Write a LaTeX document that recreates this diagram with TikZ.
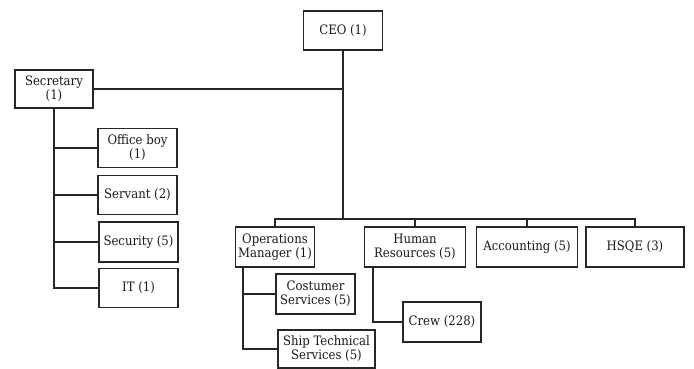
\documentclass[tikz,border=0pt]{standalone}
\usepackage{fontspec}
\setmainfont{DejaVu Serif Condensed}
\begin{document}
\begin{tikzpicture}[x=1pt,y=-1pt,
  box/.style={draw=black!85, line width=1.9pt, align=center, inner sep=0pt,
    text=black!90, font=\fontsize{13}{14}\selectfont},
  link/.style={draw=black!85, line width=1.9pt}]
\useasboundingbox (0,0) rectangle (694,369);
\node[box, minimum width=79pt, minimum height=39pt] (ceo) at (343,30.5) {CEO (1)};
\node[box, minimum width=78pt, minimum height=38pt] (sec) at (54,89) {Secretary\\(1)};
\node[box, minimum width=79pt, minimum height=39pt] (ob) at (137.5,148) {Office boy\\(1)};
\node[box, minimum width=79pt, minimum height=39pt] (sv) at (137.5,195) {Servant (2)};
\node[box, minimum width=79pt, minimum height=40pt] (secu) at (138.5,242) {Security (5)};
\node[box, minimum width=79pt, minimum height=39pt] (it) at (138.5,288) {IT (1)};
\node[box, minimum width=79pt, minimum height=40pt] (om) at (275,247) {Operations\\Manager (1)};
\node[box, minimum width=101pt, minimum height=40pt] (hr) at (415,247) {Human\\Resources (5)};
\node[box, minimum width=101pt, minimum height=40pt] (acc) at (527,247) {Accounting (5)};
\node[box, minimum width=98pt, minimum height=40pt] (hsqe) at (635,247) {HSQE (3)};
\node[box, minimum width=79pt, minimum height=40pt] (cs) at (315.5,294) {Costumer\\Services (5)};
\node[box, minimum width=97pt, minimum height=38pt] (sts) at (326.5,349) {Ship Technical\\Services (5)};
\node[box, minimum width=78pt, minimum height=40pt] (crew) at (442,322) {Crew (228)};
\coordinate (bus) at (343,219);
\coordinate (omd) at ([xshift=8.5pt]om.south west);
\coordinate (hrd) at ([xshift=9.5pt]hr.south west);
\draw[link] (ceo.south) -- (bus);
\draw[link] (sec.east) -- (sec.east -| ceo.south);
\draw[link] (om.north) |- (bus) -| (hsqe.north);
\draw[link] (hr.north) -- (hr.north |- bus);
\draw[link] (acc.north) -- (acc.north |- bus);
\draw[link] (sec.south) |- (it.west);
\draw[link] (sec.south |- ob.west) -- (ob.west);
\draw[link] (sec.south |- sv.west) -- (sv.west);
\draw[link] (sec.south |- secu.west) -- (secu.west);
\draw[link] (omd) |- (sts.west);
\draw[link] (omd |- cs.west) -- (cs.west);
\draw[link] (hrd) |- (crew.west);
\end{tikzpicture}
\end{document}
